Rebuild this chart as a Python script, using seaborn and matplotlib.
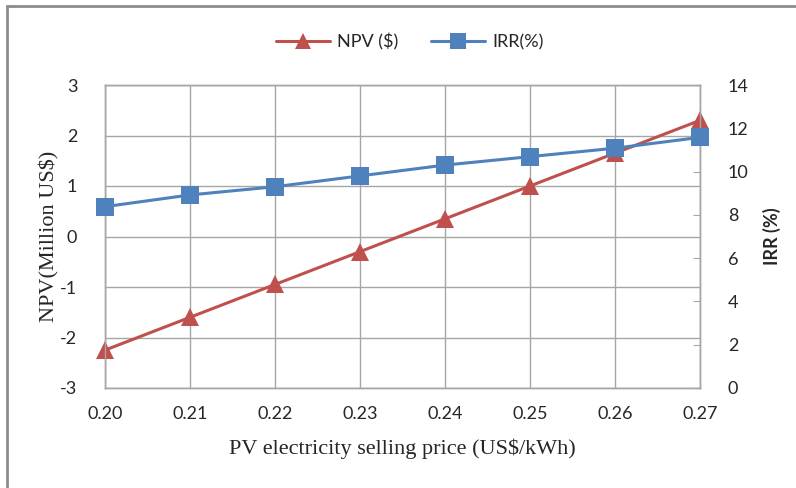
import matplotlib
matplotlib.use("Agg")
import matplotlib.pyplot as plt
import seaborn as sns
import pandas as pd
from matplotlib.lines import Line2D
from matplotlib.patches import Rectangle

price = [0.20, 0.21, 0.22, 0.23, 0.24, 0.25, 0.26, 0.27]
npv = [-2.25, -1.60, -0.95, -0.30, 0.35, 1.00, 1.65, 2.30]
irr = [8.38, 8.92, 9.30, 9.80, 10.30, 10.69, 11.08, 11.58]
x_ticklabels = ["0.20", "0.21", "0.22", "0.23", "0.24", "0.25", "0.26", "0.27"]

df = pd.DataFrame({"price": price, "npv": npv, "irr": irr})

sns.set_style("white")
plt.rcParams["font.family"] = ["Lato", "DejaVu Sans"]
plt.rcParams["axes.unicode_minus"] = False

RED = "#C0504D"
BLUE = "#4F81BD"
GRID = "#A6A6A6"
TXT = "#262626"

fig = plt.figure(figsize=(7.96, 4.88), dpi=100)
ax = fig.add_axes([105/796, 100/488, 595/796, 303/488])
ax2 = ax.twinx()

sns.lineplot(data=df, x="price", y="npv", ax=ax, color=RED, marker="^",
             markersize=13, markeredgewidth=0, linewidth=2.2, zorder=3, clip_on=False)
sns.lineplot(data=df, x="price", y="irr", ax=ax2, color=BLUE, marker="s",
             markersize=12.5, markeredgewidth=0, linewidth=2.2, zorder=3, clip_on=False)

ax.set_xlim(0.20, 0.27)
ax.set_ylim(-3, 3)
ax2.set_ylim(0, 14)
ax.set_xticks(price)
ax.set_xticklabels(x_ticklabels)
ax.set_yticks([-3, -2, -1, 0, 1, 2, 3])
ax2.set_yticks([0, 2, 4, 6, 8, 10, 12, 14])

ax.grid(True, color=GRID, linewidth=1.0)
ax.set_axisbelow(True)
ax2.grid(False)
for a in (ax, ax2):
    for s in a.spines.values():
        s.set_color(GRID)
        s.set_linewidth(1.0)

ax.tick_params(axis="both", length=0, labelsize=13, labelcolor=TXT)
ax.tick_params(axis="y", pad=20)
ax.tick_params(axis="x", pad=13)
ax2.tick_params(axis="y", direction="in", length=5, color=GRID, labelsize=13,
                labelcolor=TXT, pad=20)

ax.set_xlabel("PV electricity selling price (US$/kWh)", family="Liberation Serif",
              fontsize=16, color=TXT, labelpad=12)
ax.set_ylabel("NPV(Million US$)", family="Liberation Serif", fontsize=16,
              color=TXT, labelpad=0)
ax2.set_ylabel("IRR (%)", fontsize=13, fontweight="bold", color=TXT, labelpad=10)

handles = [
    Line2D([], [], color=RED, marker="^", markersize=12, markeredgewidth=0, linewidth=2.2),
    Line2D([], [], color=BLUE, marker="s", markersize=11, markeredgewidth=0, linewidth=2.2),
]
fig.legend(handles, ["NPV ($)", "IRR(%)"], loc="center", bbox_to_anchor=(410/796, 1 - 42/488),
           ncol=2, frameon=False, fontsize=13, handlelength=3.0, columnspacing=1.8,
           handletextpad=0.4)

fig.add_artist(Rectangle((7/796, -0.05), 1.0, 1 - 6/488 + 0.05, transform=fig.transFigure,
                         fill=False, edgecolor="#8C8C8C", linewidth=2.0))

fig.savefig("out.png", dpi=100)
